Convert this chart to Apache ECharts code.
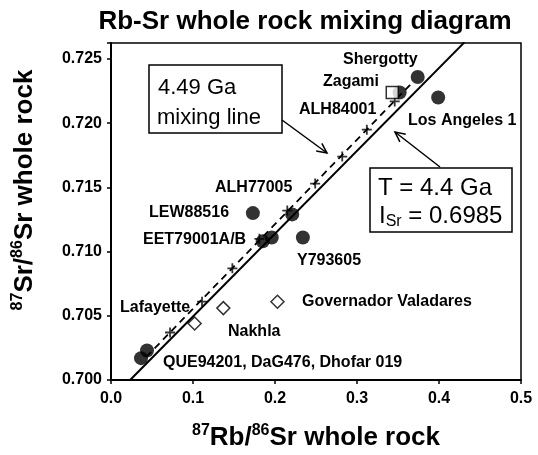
<!DOCTYPE html>
<html><head><meta charset="utf-8">
<script src="https://cdn.jsdelivr.net/npm/echarts@6/dist/echarts.min.js"></script>
<style>html,body{margin:0;padding:0;background:#fff}#c{width:538px;height:455px}</style>
</head><body><div id="c"></div>
<script>
// ---- data ----
const filledX = [0.374, 0.399, 0.352, 0.221, 0.173, 0.185, 0.196, 0.234, 0.0366, 0.0439];
const filledY = [0.7236, 0.7220, 0.7224, 0.7129, 0.7130, 0.7108, 0.7111, 0.7111, 0.7017, 0.7023];
const squareX = [0.343];
const squareY = [0.7224];
const diamondX = [0.102, 0.137, 0.203];
const diamondY = [0.7044, 0.7056, 0.7061];
const crossX = [0.072, 0.111, 0.148, 0.181, 0.215, 0.249, 0.282, 0.312, 0.346];
const crossY = [0.7037, 0.7061, 0.7087, 0.7110, 0.7132, 0.7153, 0.7174, 0.7195, 0.7217];
const mixX = [0.043, 0.368];
const mixY = [0.7018, 0.7232];
const isoX = [0.0233, 0.4310];
const isoY = [0.7000, 0.7263];
const xRange = [0, 0.5];
const yRange = [0.700, 0.72625];
const pointLabels = ['Shergotty','Zagami','ALH84001','Los Angeles 1','ALH77005','LEW88516','EET79001A/B','Y793605','Governador Valadares','Lafayette','Nakhla','QUE94201, DaG476, Dhofar 019'];

const zip = (a, b) => a.map((v, i) => [v, b[i]]);
const chart = echarts.init(document.getElementById('c'), null, {renderer: 'canvas'});

// label placement (pixels)
const labelPos = [[343,60],[323,82],[299,110],[408,121],[215,188],[149,213],[143,240],[297,261],[302,302],[120,308],[228,332],[163,363]];
const F = 'Arial, "Liberation Sans", sans-serif';

function arrow(x1, y1, x2, y2) {
  const dx = x2 - x1, dy = y2 - y1, L = Math.hypot(dx, dy);
  const ux = dx / L, uy = dy / L, a = 0.45, h = 11;
  const w1 = [x2 - h * (ux * Math.cos(a) - uy * Math.sin(a)), y2 - h * (uy * Math.cos(a) + ux * Math.sin(a))];
  const w2 = [x2 - h * (ux * Math.cos(a) + uy * Math.sin(a)), y2 - h * (uy * Math.cos(a) - ux * Math.sin(a))];
  return [
    {type: 'line', shape: {x1, y1, x2, y2}, style: {stroke: '#000', lineWidth: 1.5}, z: 100},
    {type: 'polyline', shape: {points: [w1, [x2, y2], w2]}, style: {stroke: '#000', lineWidth: 1.5, fill: null}, z: 100}
  ];
}

const graphics = [
  {type: 'text', x: 305, y: 22, style: {text: 'Rb-Sr whole rock mixing diagram', font: 'bold 26px ' + F, fill: '#000', align: 'center', verticalAlign: 'middle'}},
  {type: 'text', x: 316, y: 438, style: {text: '{s|87}{b|Rb/}{s|86}{b|Sr whole rock}', align: 'center', verticalAlign: 'middle',
    rich: {b: {font: 'bold 26px ' + F, fill: '#000', lineHeight: 30}, s: {font: 'bold 16px ' + F, fill: '#000', lineHeight: 18, verticalAlign: 'top'}}}},
  {type: 'text', x: 25, y: 190, rotation: Math.PI / 2, style: {text: '{s|87}{b|Sr/}{s|86}{b|Sr whole rock}', align: 'center', verticalAlign: 'middle',
    rich: {b: {font: 'bold 26px ' + F, fill: '#000', lineHeight: 30}, s: {font: 'bold 16px ' + F, fill: '#000', lineHeight: 18, verticalAlign: 'top'}}}},
  {type: 'rect', shape: {x: 149, y: 65, width: 133, height: 68}, style: {fill: '#fff', stroke: '#000', lineWidth: 1.5}, z: 90},
  {type: 'text', x: 158, y: 88, style: {text: '4.49 Ga', font: '22px ' + F, fill: '#000', align: 'left', verticalAlign: 'middle'}, z: 91},
  {type: 'text', x: 157, y: 118, style: {text: 'mixing line', font: '22px ' + F, fill: '#000', align: 'left', verticalAlign: 'middle'}, z: 91},
  {type: 'rect', shape: {x: 370, y: 168, width: 142, height: 64}, style: {fill: '#fff', stroke: '#000', lineWidth: 1.5}, z: 90},
  {type: 'text', x: 378, y: 188, style: {text: 'T = 4.4 Ga', font: '24px ' + F, fill: '#000', align: 'left', verticalAlign: 'middle'}, z: 91},
  {type: 'text', x: 379, y: 216, style: {text: '{m|I}{s|Sr}{m| = 0.6985}', align: 'left', verticalAlign: 'middle',
    rich: {m: {font: '24px ' + F, fill: '#000', lineHeight: 28}, s: {font: '16px ' + F, fill: '#000', lineHeight: 16, verticalAlign: 'bottom'}}}, z: 91},
  ...arrow(282, 120, 327, 153),
  ...arrow(440, 167, 395, 132)
];
pointLabels.forEach((t, i) => graphics.push({type: 'text', x: labelPos[i][0], y: labelPos[i][1],
  style: {text: t, font: 'bold 16px ' + F, fill: '#000', align: 'left', verticalAlign: 'middle'}, z: 80}));

chart.setOption({
  animation: false,
  backgroundColor: '#fff',
  grid: {left: 111, right: 17, top: 43, bottom: 75, show: true, borderColor: '#000', borderWidth: 1.5, backgroundColor: 'transparent'},
  xAxis: {type: 'value', min: xRange[0], max: xRange[1], interval: 0.1,
    axisLine: {show: true, onZero: false, lineStyle: {color: '#000', width: 2}},
    axisTick: {show: true, length: 4, lineStyle: {color: '#000', width: 1.5}},
    splitLine: {show: false},
    axisLabel: {margin: 11, color: '#000', fontFamily: F, fontWeight: 'bold', fontSize: 16, formatter: v => v.toFixed(1)}},
  yAxis: {type: 'value', min: yRange[0], max: yRange[1], interval: 0.005,
    axisLine: {show: true, onZero: false, lineStyle: {color: '#000', width: 2}},
    axisTick: {show: true, length: 4, lineStyle: {color: '#000', width: 1.5}},
    splitLine: {show: false},
    axisLabel: {margin: 9, color: '#000', fontFamily: F, fontWeight: 'bold', fontSize: 16,
      formatter: v => Math.abs(v * 200 - Math.round(v * 200)) < 1e-6 ? v.toFixed(3) : ''}},
  series: [
    {type: 'line', data: zip(isoX, isoY), symbol: 'none', lineStyle: {color: '#000', width: 2}, z: 2},
    {type: 'line', data: zip(mixX, mixY), symbol: 'none', lineStyle: {color: '#000', width: 1.8, type: [7, 5]}, z: 2},
    {type: 'scatter', data: zip(crossX, crossY), symbol: 'path://M-0.9,-5H0.9V5H-0.9Z M-5,-0.9H5V0.9H-5Z', symbolSize: 10,
      itemStyle: {color: '#000'}, z: 3},
    {type: 'scatter', data: zip(diamondX, diamondY), symbol: 'diamond', symbolSize: 13,
      itemStyle: {color: '#fff', borderColor: '#000', borderWidth: 1.5}, z: 4},
    {type: 'scatter', data: zip(filledX, filledY), symbol: 'circle', symbolSize: 14, itemStyle: {color: '#000'}, z: 5},
    {type: 'scatter', data: zip(squareX, squareY), symbol: 'rect', symbolSize: 12,
      itemStyle: {color: '#fff', borderColor: '#000', borderWidth: 1.5}, z: 6}
  ],
  graphic: graphics
});
</script></body></html>
